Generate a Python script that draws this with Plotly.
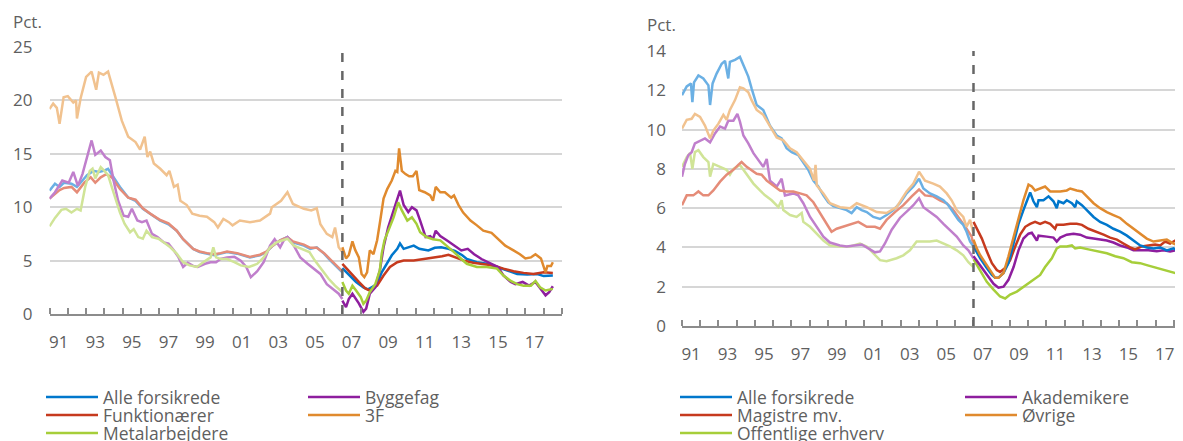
import plotly.graph_objects as go

BREAK_YEAR = 2007.0

# ---------------- Left panel (Pct.) ----------------
L_ALLE_PRE = [(1991.0,11.55),(1991.3,12.2),(1991.55,11.9),(1991.8,12.3),(1992.2,12.2),(1992.5,11.9),(1992.8,12.5),(1993.05,13.0),(1993.4,13.4),(1993.7,13.3),(1993.95,13.4),(1994.2,13.6),(1994.5,12.8),(1994.85,11.9),(1995.3,10.9),(1995.7,10.6),(1996.1,9.85),(1996.5,9.4),(1997.05,8.75),(1997.5,8.4),(1997.95,7.8),(1998.3,7.0),(1998.85,6.1),(1999.2,5.8),(1999.6,5.65),(2000.0,5.5),(2000.35,5.65),(2000.7,5.8),(2001.25,5.65),(2001.6,5.5),(2001.95,5.3),(2002.5,5.5),(2002.85,5.8),(2003.2,6.4),(2003.6,6.9),(2004.0,7.2),(2004.3,6.7),(2004.9,6.4),(2005.25,6.1),(2005.6,6.25),(2006.0,5.65),(2006.35,5.0),(2006.7,4.4),(2007.0,3.9)]
L_ALLE_POST = [(2007.0,4.3),(2007.4,3.6),(2007.75,3.0),(2008.15,2.5),(2008.4,2.3),(2008.6,2.5),(2008.9,2.8),(2009.15,3.9),(2009.45,4.85),(2009.7,5.5),(2010.0,6.1),(2010.15,6.6),(2010.35,6.1),(2010.6,6.25),(2010.9,6.4),(2011.2,6.1),(2011.7,5.95),(2012.05,6.2),(2012.4,6.25),(2012.8,6.1),(2013.15,5.9),(2013.55,5.5),(2013.8,5.15),(2014.35,4.85),(2014.9,4.7),(2015.45,4.4),(2016.0,4.1),(2016.55,3.75),(2017.1,3.7),(2017.65,3.75),(2018.0,3.55),(2018.5,3.6)]

L_FUNK_PRE = [(1991.0,10.8),(1991.3,11.2),(1991.55,11.6),(1991.8,11.8),(1992.2,11.9),(1992.5,11.4),(1992.9,12.3),(1993.25,12.8),(1993.5,12.3),(1993.8,12.8),(1994.1,13.1),(1994.4,12.8),(1994.85,11.7),(1995.3,10.9),(1995.7,10.7),(1996.1,9.9),(1996.5,9.4),(1997.05,8.8),(1997.5,8.5),(1997.95,7.8),(1998.3,7.0),(1998.85,6.1),(1999.2,5.85),(1999.6,5.7),(2000.0,5.6),(2000.35,5.7),(2000.7,5.85),(2001.25,5.7),(2001.6,5.55),(2001.95,5.35),(2002.5,5.55),(2002.85,5.85),(2003.2,6.4),(2003.6,6.9),(2004.0,7.2),(2004.3,6.8),(2004.9,6.5),(2005.25,6.2),(2005.6,6.2),(2006.0,5.7),(2006.35,5.1),(2006.7,4.5),(2007.0,4.0)]
L_FUNK_POST = [(2007.0,4.7),(2007.4,3.9),(2007.9,3.0),(2008.25,2.4),(2008.5,2.2),(2008.9,2.65),(2009.25,3.6),(2009.6,4.4),(2010.0,4.85),(2010.35,5.0),(2010.9,5.0),(2011.45,5.15),(2012.0,5.25),(2012.45,5.4),(2012.8,5.55),(2013.2,5.3),(2013.65,5.0),(2014.15,4.8),(2014.7,4.7),(2015.25,4.55),(2015.8,4.25),(2016.35,4.0),(2016.9,3.85),(2017.45,3.75),(2018.0,3.9),(2018.5,3.85)]

L_BYGG_PRE = [(1991.0,10.8),(1991.3,11.4),(1991.7,12.5),(1992.05,12.3),(1992.3,13.3),(1992.55,12.0),(1992.8,13.1),(1993.05,14.8),(1993.3,16.25),(1993.5,14.9),(1993.8,15.3),(1994.05,14.7),(1994.3,14.4),(1994.5,12.5),(1994.75,10.6),(1995.05,9.2),(1995.3,9.1),(1995.5,9.85),(1995.8,8.75),(1996.05,8.6),(1996.3,8.75),(1996.6,7.5),(1996.9,7.2),(1997.25,6.7),(1997.5,6.6),(1997.8,5.95),(1998.05,5.3),(1998.3,4.4),(1998.55,4.8),(1998.85,4.5),(1999.1,4.4),(1999.5,4.7),(1999.8,4.85),(2000.1,4.85),(2000.35,5.15),(2000.7,5.3),(2001.1,5.35),(2001.45,5.0),(2001.75,4.4),(2002.0,3.45),(2002.35,4.0),(2002.7,4.85),(2003.05,6.4),(2003.3,7.0),(2003.6,6.25),(2003.8,6.9),(2004.0,7.2),(2004.35,6.4),(2004.7,5.3),(2005.1,4.7),(2005.45,4.25),(2005.8,3.75),(2006.15,2.8),(2006.5,2.35),(2006.8,1.9),(2007.0,1.4)]
L_BYGG_POST = [(2007.0,1.25),(2007.2,0.65),(2007.35,1.4),(2007.55,1.9),(2007.9,1.0),(2008.15,0.2),(2008.3,0.5),(2008.5,1.9),(2008.8,2.5),(2009.05,4.1),(2009.25,6.25),(2009.5,8.1),(2009.8,9.7),(2010.05,10.9),(2010.15,11.55),(2010.35,10.2),(2010.6,9.55),(2010.8,10.0),(2011.05,9.7),(2011.25,8.75),(2011.55,7.2),(2011.8,7.3),(2011.95,7.0),(2012.1,7.8),(2012.35,7.3),(2012.7,6.9),(2013.1,6.4),(2013.5,5.95),(2013.85,6.1),(2014.2,5.6),(2014.6,5.15),(2014.95,4.85),(2015.5,4.4),(2015.8,3.6),(2016.2,3.0),(2016.45,2.8),(2016.85,3.0),(2017.2,2.65),(2017.55,3.0),(2017.9,2.2),(2018.1,1.75),(2018.3,2.05),(2018.5,2.6)]

L_3F_PRE = [(1991.0,19.2),(1991.2,19.7),(1991.4,19.3),(1991.55,17.8),(1991.77,20.3),(1992.0,20.4),(1992.3,19.8),(1992.45,20.0),(1992.5,18.3),(1992.7,20.2),(1993.0,22.2),(1993.3,22.7),(1993.55,21.0),(1993.7,22.6),(1993.95,22.4),(1994.2,22.7),(1994.6,20.3),(1994.95,18.1),(1995.3,16.6),(1995.7,16.1),(1995.95,15.4),(1996.2,16.6),(1996.35,14.7),(1996.5,15.2),(1996.7,14.1),(1997.05,13.6),(1997.4,13.0),(1997.55,13.4),(1997.8,11.9),(1998.0,12.1),(1998.15,10.6),(1998.5,10.2),(1998.8,9.4),(1999.2,9.2),(1999.6,9.1),(2000.0,8.6),(2000.2,8.1),(2000.5,8.9),(2000.8,8.6),(2001.0,8.3),(2001.4,8.75),(2001.95,8.6),(2002.5,8.75),(2003.05,9.4),(2003.15,10.0),(2003.4,10.3),(2003.65,10.6),(2004.0,11.4),(2004.3,10.3),(2004.9,9.85),(2005.3,9.7),(2005.6,9.9),(2005.8,8.4),(2006.15,7.5),(2006.45,7.2),(2006.6,8.1),(2006.8,6.25),(2007.0,5.8)]
L_3F_POST = [(2007.0,6.25),(2007.2,5.2),(2007.35,5.5),(2007.55,6.8),(2007.7,6.0),(2007.9,5.3),(2008.05,3.75),(2008.2,3.45),(2008.35,3.9),(2008.5,5.95),(2008.7,5.6),(2008.9,6.9),(2009.07,8.75),(2009.25,10.8),(2009.45,11.7),(2009.7,12.5),(2009.9,13.4),(2010.0,13.3),(2010.1,15.5),(2010.25,13.4),(2010.45,13.1),(2010.65,12.9),(2010.85,12.9),(2011.05,13.4),(2011.2,11.6),(2011.5,11.4),(2011.8,11.1),(2011.95,10.6),(2012.1,11.9),(2012.35,11.4),(2012.6,11.4),(2012.95,10.9),(2013.1,11.1),(2013.35,10.2),(2013.6,9.5),(2014.0,8.75),(2014.35,8.3),(2014.7,7.8),(2015.15,7.6),(2015.4,7.2),(2015.9,6.4),(2016.35,5.95),(2016.7,5.6),(2017.0,5.2),(2017.3,5.3),(2017.55,5.6),(2017.85,5.2),(2018.1,3.9),(2018.2,4.5),(2018.4,4.5),(2018.5,4.85)]

L_METAL_PRE = [(1991.0,8.2),(1991.3,9.0),(1991.65,9.75),(1991.9,9.85),(1992.2,9.5),(1992.5,9.85),(1992.7,9.7),(1992.95,11.9),(1993.2,13.4),(1993.35,13.6),(1993.5,12.7),(1993.8,13.75),(1994.0,13.4),(1994.2,13.0),(1994.4,11.9),(1994.65,10.5),(1994.85,9.5),(1995.1,8.45),(1995.4,7.65),(1995.6,7.95),(1995.85,7.2),(1996.1,7.05),(1996.3,7.8),(1996.6,7.2),(1996.95,7.05),(1997.25,6.7),(1997.6,6.25),(1997.95,5.65),(1998.3,4.85),(1998.65,4.55),(1999.05,4.4),(1999.4,4.85),(1999.8,5.3),(1999.95,6.25),(2000.1,5.3),(2000.35,5.15),(2000.7,5.15),(2001.1,4.85),(2001.45,4.55),(2001.9,4.4),(2002.35,4.7),(2002.7,5.3),(2003.05,6.25),(2003.4,6.7),(2003.8,6.9),(2004.0,7.05),(2004.35,6.4),(2004.8,6.1),(2005.2,5.8),(2005.5,5.0),(2005.9,4.1),(2006.25,3.3),(2006.6,2.65),(2006.9,2.2),(2007.0,2.35)]
L_METAL_POST = [(2007.0,3.0),(2007.2,2.2),(2007.35,1.9),(2007.55,2.65),(2007.75,2.2),(2008.0,1.6),(2008.15,0.95),(2008.3,1.25),(2008.5,2.05),(2008.8,2.8),(2009.05,4.1),(2009.15,5.65),(2009.3,6.9),(2009.5,7.8),(2009.8,9.05),(2010.05,10.45),(2010.25,9.7),(2010.55,8.75),(2010.8,9.05),(2011.05,8.45),(2011.25,7.65),(2011.6,7.2),(2011.95,7.0),(2012.35,6.9),(2012.7,6.4),(2013.1,5.8),(2013.5,5.15),(2013.8,4.7),(2014.35,4.4),(2014.9,4.4),(2015.45,4.25),(2015.8,3.6),(2016.2,3.1),(2016.55,2.8),(2016.9,2.65),(2017.3,2.65),(2017.55,3.1),(2017.8,2.5),(2018.1,2.2),(2018.5,2.35)]

# ---------------- Right panel (Pct.) ----------------
R_ALLE_PRE = [(1991.0,11.75),(1991.26,12.2),(1991.49,12.35),(1991.57,11.4),(1991.66,12.4),(1991.9,12.75),(1992.17,12.6),(1992.45,12.25),(1992.54,11.25),(1992.68,12.35),(1992.9,12.85),(1993.18,13.35),(1993.36,13.5),(1993.54,12.6),(1993.63,13.45),(1993.91,13.55),(1994.18,13.7),(1994.37,13.3),(1994.64,12.7),(1994.82,12.1),(1995.1,11.25),(1995.46,11.0),(1995.83,10.2),(1996.2,9.7),(1996.47,9.55),(1996.74,9.05),(1997.02,8.85),(1997.38,8.7),(1997.66,8.35),(1997.93,7.95),(1998.21,7.4),(1998.48,7.1),(1998.76,6.65),(1999.03,6.3),(1999.31,6.1),(1999.67,6.0),(2000.04,5.9),(2000.31,5.75),(2000.59,6.05),(2000.86,5.9),(2001.14,5.8),(2001.5,5.55),(2001.87,5.45),(2002.23,5.65),(2002.6,5.9),(2002.96,6.25),(2003.33,6.75),(2003.7,7.1),(2004.01,7.5),(2004.25,7.0),(2004.61,6.75),(2004.98,6.6),(2005.35,6.4),(2005.62,6.15),(2005.89,5.75),(2006.17,5.4),(2006.44,5.15),(2006.62,4.8),(2006.81,4.3),(2007.0,4.05)]
R_ALLE_POST = [(2007.0,4.05),(2007.37,3.45),(2007.73,2.95),(2008.01,2.6),(2008.19,2.45),(2008.37,2.45),(2008.65,2.7),(2008.92,3.2),(2009.2,4.2),(2009.47,5.2),(2009.74,5.9),(2010.02,6.65),(2010.11,6.8),(2010.29,6.35),(2010.48,6.05),(2010.57,6.4),(2010.84,6.4),(2011.12,6.6),(2011.39,6.35),(2011.57,6.0),(2011.67,6.35),(2011.94,6.25),(2012.12,6.4),(2012.4,6.25),(2012.58,6.05),(2012.67,6.35),(2012.95,6.15),(2013.22,5.9),(2013.59,5.55),(2013.95,5.3),(2014.32,5.15),(2014.68,4.95),(2015.05,4.8),(2015.42,4.6),(2015.78,4.35),(2016.15,4.1),(2016.51,4.0),(2016.88,3.95),(2017.25,4.0),(2017.61,3.85),(2017.98,3.95),(2018.25,3.8),(2018.51,3.75)]

R_AKAD_PRE = [(1991.0,7.6),(1991.16,8.25),(1991.35,8.7),(1991.53,8.85),(1991.71,9.3),(1991.99,9.45),(1992.26,9.55),(1992.54,9.35),(1992.81,9.8),(1993.09,10.15),(1993.36,10.05),(1993.54,10.45),(1993.82,10.45),(1994.04,10.8),(1994.18,10.4),(1994.37,9.7),(1994.64,9.3),(1994.92,8.8),(1995.19,8.45),(1995.46,8.1),(1995.65,8.5),(1995.83,7.4),(1996.2,7.1),(1996.47,7.5),(1996.65,6.65),(1997.11,6.75),(1997.38,6.65),(1997.66,6.25),(1998.03,5.55),(1998.39,5.05),(1998.76,4.55),(1999.12,4.25),(1999.67,4.1),(2000.04,4.05),(2000.4,4.1),(2000.86,4.15),(2001.23,3.95),(2001.59,3.75),(2001.87,3.8),(2002.14,4.2),(2002.51,4.9),(2002.96,5.5),(2003.42,5.9),(2003.7,6.15),(2004.01,6.5),(2004.25,6.05),(2004.61,5.8),(2004.98,5.55),(2005.35,5.2),(2005.71,4.9),(2006.08,4.55),(2006.44,4.1),(2006.72,3.85),(2007.0,3.45)]
R_AKAD_POST = [(2007.0,3.55),(2007.37,3.1),(2007.73,2.6),(2008.1,2.15),(2008.37,1.95),(2008.65,2.0),(2008.92,2.35),(2009.2,3.0),(2009.47,3.85),(2009.74,4.45),(2010.02,4.7),(2010.2,4.75),(2010.48,4.35),(2010.57,4.6),(2011.02,4.55),(2011.39,4.5),(2011.57,4.3),(2011.76,4.5),(2012.12,4.65),(2012.49,4.7),(2012.85,4.65),(2013.22,4.5),(2013.59,4.45),(2013.95,4.4),(2014.32,4.35),(2014.68,4.25),(2015.05,4.1),(2015.42,4.0),(2015.78,3.85),(2016.24,3.85),(2016.6,3.85),(2017.06,3.8),(2017.43,3.85),(2017.79,3.8),(2018.07,3.85),(2018.51,3.85)]

R_MAG_PRE = [(1991.0,6.15),(1991.26,6.65),(1991.62,6.65),(1991.9,6.85),(1992.17,6.65),(1992.45,6.65),(1992.72,6.9),(1993.09,7.35),(1993.45,7.7),(1993.82,7.95),(1994.09,8.2),(1994.27,8.35),(1994.55,8.1),(1994.82,7.95),(1995.1,7.75),(1995.37,7.7),(1995.65,7.4),(1996.01,7.15),(1996.38,6.9),(1996.74,6.85),(1997.11,6.85),(1997.48,6.75),(1997.84,6.65),(1998.21,6.3),(1998.57,5.75),(1998.94,5.15),(1999.21,4.8),(1999.49,4.95),(1999.85,5.05),(2000.22,5.15),(2000.68,5.3),(2001.14,5.05),(2001.59,5.05),(2001.87,4.95),(2002.23,5.4),(2002.69,5.8),(2003.15,6.15),(2003.61,6.6),(2004.01,6.95),(2004.34,6.65),(2004.79,6.6),(2005.16,6.4),(2005.53,6.25),(2005.89,5.9),(2006.26,5.45),(2006.62,4.95),(2006.9,4.55),(2007.0,4.05)]
R_MAG_POST = [(2007.0,5.3),(2007.18,4.95),(2007.46,4.45),(2007.73,3.8),(2008.01,3.2),(2008.28,2.85),(2008.46,2.75),(2008.74,2.95),(2009.01,3.35),(2009.29,4.05),(2009.56,4.65),(2009.84,5.05),(2010.11,5.2),(2010.38,5.3),(2010.66,5.2),(2010.93,5.3),(2011.21,5.2),(2011.48,4.95),(2011.57,5.15),(2011.94,5.15),(2012.31,5.2),(2012.67,5.2),(2012.95,5.15),(2013.31,4.95),(2013.77,4.8),(2014.14,4.65),(2014.5,4.5),(2014.87,4.4),(2015.23,4.2),(2015.6,4.0),(2015.87,3.9),(2016.24,4.05),(2016.6,4.1),(2016.97,4.15),(2017.25,4.1),(2017.52,4.3),(2017.79,4.2),(2018.07,4.35),(2018.25,4.25),(2018.51,4.35)]

R_OVR_PRE = [(1991.0,10.05),(1991.26,10.5),(1991.53,10.55),(1991.71,10.8),(1991.99,10.65),(1992.26,10.2),(1992.54,9.55),(1992.72,9.95),(1993.0,10.3),(1993.27,10.75),(1993.45,10.5),(1993.63,11.0),(1993.91,11.5),(1994.18,12.15),(1994.37,12.1),(1994.64,11.9),(1994.82,11.5),(1995.1,11.0),(1995.46,10.75),(1995.83,10.15),(1996.2,9.6),(1996.56,9.45),(1996.93,9.05),(1997.29,8.85),(1997.66,8.45),(1998.03,8.0),(1998.25,7.4),(1998.33,8.2),(1998.4,7.15),(1998.76,6.75),(1999.12,6.25),(1999.67,6.05),(2000.22,6.0),(2000.59,6.25),(2001.14,6.05),(2001.69,5.8),(2002.23,5.75),(2002.78,6.05),(2003.33,6.85),(2003.7,7.25),(2004.01,7.85),(2004.34,7.4),(2004.79,7.25),(2005.16,7.1),(2005.53,6.75),(2005.8,6.4),(2006.08,5.9),(2006.44,5.55),(2006.62,5.05),(2006.81,5.4),(2007.0,4.7)]
R_OVR_POST = [(2007.0,4.4),(2007.18,3.95),(2007.37,3.6),(2007.73,3.1),(2008.01,2.7),(2008.19,2.45),(2008.37,2.45),(2008.65,2.7),(2008.92,3.55),(2009.2,4.55),(2009.47,5.5),(2009.74,6.4),(2010.02,7.2),(2010.2,7.1),(2010.38,6.9),(2010.66,7.0),(2010.93,7.1),(2011.21,6.85),(2011.48,6.85),(2011.76,6.85),(2012.12,6.9),(2012.31,7.0),(2012.67,6.9),(2012.95,6.85),(2013.22,6.6),(2013.59,6.25),(2013.95,6.0),(2014.32,5.8),(2014.68,5.65),(2015.05,5.5),(2015.42,5.2),(2015.78,4.95),(2016.15,4.7),(2016.51,4.45),(2016.88,4.3),(2017.25,4.35),(2017.61,4.4),(2017.98,4.2),(2018.25,4.1),(2018.51,4.1)]

R_OFF_PRE = [(1991.0,8.1),(1991.26,8.6),(1991.44,8.8),(1991.57,8.0),(1991.71,8.85),(1991.9,8.95),(1992.17,8.6),(1992.45,8.35),(1992.54,7.6),(1992.72,8.25),(1993.09,8.1),(1993.45,7.95),(1993.63,7.7),(1993.82,8.0),(1994.18,8.2),(1994.37,7.95),(1994.64,7.6),(1994.92,7.25),(1995.28,6.9),(1995.56,6.65),(1995.92,6.4),(1996.29,6.05),(1996.47,6.4),(1996.56,5.9),(1996.93,5.65),(1997.29,5.55),(1997.57,5.75),(1997.66,5.3),(1998.03,5.05),(1998.39,4.7),(1998.76,4.35),(1999.12,4.1),(1999.67,4.05),(2000.22,4.05),(2000.77,4.2),(2001.14,4.05),(2001.5,3.7),(2001.87,3.35),(2002.23,3.3),(2002.78,3.45),(2003.15,3.6),(2003.51,3.85),(2003.88,4.3),(2004.25,4.3),(2004.61,4.3),(2004.98,4.35),(2005.35,4.2),(2005.71,4.05),(2006.08,3.85),(2006.44,3.6),(2006.72,3.25),(2007.0,3.0)]
R_OFF_POST = [(2007.0,3.4),(2007.37,2.85),(2007.73,2.25),(2008.1,1.85),(2008.46,1.5),(2008.74,1.4),(2009.01,1.6),(2009.38,1.75),(2009.74,2.0),(2010.11,2.25),(2010.48,2.5),(2010.66,2.6),(2010.93,3.0),(2011.3,3.45),(2011.57,3.95),(2011.76,4.05),(2012.12,4.05),(2012.4,4.1),(2012.58,3.95),(2012.85,4.0),(2013.31,3.9),(2013.77,3.8),(2014.32,3.7),(2014.78,3.55),(2015.23,3.45),(2015.69,3.25),(2016.15,3.2),(2016.51,3.1),(2016.88,3.0),(2017.25,2.9),(2017.61,2.8),(2017.98,2.7),(2018.25,2.65),(2018.51,2.65)]

TICK_YEARS = list(range(1991, 2019, 2))
TICK_TEXT = [f"{y % 100:02d}" for y in TICK_YEARS]

# colours (dark = after break, light = before break)
DARK = {"blue": "#0077CC", "purple": "#8E1E9E", "red": "#C63A1E",
        "orange": "#E08A2E", "green": "#A6CE3A"}
LIGHT = {"blue": "#6BB0E4", "purple": "#C07FCC", "red": "#E58C78",
         "orange": "#F1C28F", "green": "#D0E497"}

# the page puts the figure 8 px in from the window's top-left corner
OFF = 8
WIN_W, WIN_H = 1183, 441
W, H = WIN_W - OFF, WIN_H - OFF
TXT = "#5F5F5F"
FONT = "Open Sans"


def fx(p):
    return (p - OFF) / W


def fy(p):
    return 1 - (p - OFF) / H


fig = go.Figure()
LEG_POS = {}


def add_series(pre, post, name, color, xa, ya, legend, pos):
    px, py = zip(*pre)
    qx, qy = zip(*post)
    fig.add_trace(go.Scatter(x=px, y=py, mode="lines", xaxis=xa, yaxis=ya,
                             line=dict(color=LIGHT[color], width=2.5),
                             showlegend=False, hoverinfo="skip"))
    fig.add_trace(go.Scatter(x=qx, y=qy, mode="lines", xaxis=xa, yaxis=ya, name=name,
                             line=dict(color=DARK[color], width=2.5),
                             legend=legend, showlegend=True))
    LEG_POS[legend] = pos


# left panel
add_series(L_ALLE_PRE, L_ALLE_POST, "Alle forsikrede", "blue", "x", "y", "legend", (48, 397))
add_series(L_FUNK_PRE, L_FUNK_POST, "Funktionærer", "red", "x", "y", "legend2", (48, 415))
add_series(L_BYGG_PRE, L_BYGG_POST, "Byggefag", "purple", "x", "y", "legend3", (310, 397))
add_series(L_METAL_PRE, L_METAL_POST, "Metalarbejdere", "green", "x", "y", "legend4", (48, 433))
add_series(L_3F_PRE, L_3F_POST, "3F", "orange", "x", "y", "legend5", (310, 415))
# right panel
add_series(R_OFF_PRE, R_OFF_POST, "Offentlige erhverv", "green", "x2", "y2", "legend6", (682, 433))
add_series(R_AKAD_PRE, R_AKAD_POST, "Akademikere", "purple", "x2", "y2", "legend7", (967, 397))
add_series(R_MAG_PRE, R_MAG_POST, "Magistre mv.", "red", "x2", "y2", "legend8", (682, 415))
add_series(R_ALLE_PRE, R_ALLE_POST, "Alle forsikrede", "blue", "x2", "y2", "legend9", (682, 397))
add_series(R_OVR_PRE, R_OVR_POST, "Øvrige", "orange", "x2", "y2", "legend10", (967, 415))


def xaxis_cfg(domain, rng, anchor):
    return dict(domain=domain, range=rng, anchor=anchor, automargin=False,
                tickmode="array", tickvals=[y + 0.5 for y in TICK_YEARS], ticktext=TICK_TEXT,
                ticks="", showgrid=False, zeroline=False,
                showline=True, linecolor="#8C8C8C", linewidth=1.5,
                tickfont=dict(family=FONT, size=17, color=TXT), ticklabelstandoff=12,
                minor=dict(tickmode="array", tickvals=list(range(1991, 2020)),
                           ticks="inside", ticklen=6, tickwidth=1.5,
                           tickcolor="#8C8C8C", showgrid=False))


def yaxis_cfg(domain, rng, dt, anchor, standoff):
    return dict(domain=domain, range=rng, anchor=anchor, automargin=False,
                tickmode="linear", tick0=0, dtick=dt,
                showgrid=True, gridcolor="#D6D6D6", gridwidth=1.5,
                zeroline=False, showline=False, ticks="",
                tickfont=dict(family=FONT, size=17, color=TXT), ticklabelstandoff=standoff)


fig.update_layout(
    width=W, height=H, margin=dict(l=0, r=0, t=0, b=0, autoexpand=False),
    paper_bgcolor="white", plot_bgcolor="white",
    font=dict(family=FONT, size=17, color=TXT),
    xaxis=xaxis_cfg([fx(49.5), fx(562)], [1991, 2019], "y"),
    yaxis=yaxis_cfg([fy(314), fy(47)], [0, 25], 5, "x", 16),
    xaxis2=xaxis_cfg([fx(682), 1.0], [1991, 2018.5], "y2"),
    yaxis2=yaxis_cfg([fy(326), fy(51)], [0, 14], 2, "x2", 15),
    shapes=[
        dict(type="line", xref="x", yref="y", x0=BREAK_YEAR, x1=BREAK_YEAR, y0=0, y1=25,
             line=dict(color="#666666", width=2.5, dash="dash")),
        dict(type="line", xref="x2", yref="y2", x0=BREAK_YEAR, x1=BREAK_YEAR, y0=0, y1=14,
             line=dict(color="#666666", width=2.5, dash="dash")),
    ],
    annotations=[
        dict(text="Pct.", xref="paper", yref="paper", x=fx(11), y=fy(22),
             xanchor="left", yanchor="middle", showarrow=False,
             font=dict(family=FONT, size=17, color=TXT)),
        dict(text="Pct.", xref="paper", yref="paper", x=fx(645), y=fy(24),
             xanchor="left", yanchor="middle", showarrow=False,
             font=dict(family=FONT, size=17, color=TXT)),
    ],
)

legend_layout = {}
for key, (xpx, ypx) in LEG_POS.items():
    legend_layout[key] = dict(orientation="v", x=fx(xpx - 7), y=fy(ypx),
                              xanchor="left", yanchor="middle", itemwidth=52,
                              bgcolor="rgba(0,0,0,0)", borderwidth=0,
                              font=dict(family=FONT, size=17.5, color=TXT))
fig.update_layout(**legend_layout)

fig.write_html("out.html")
